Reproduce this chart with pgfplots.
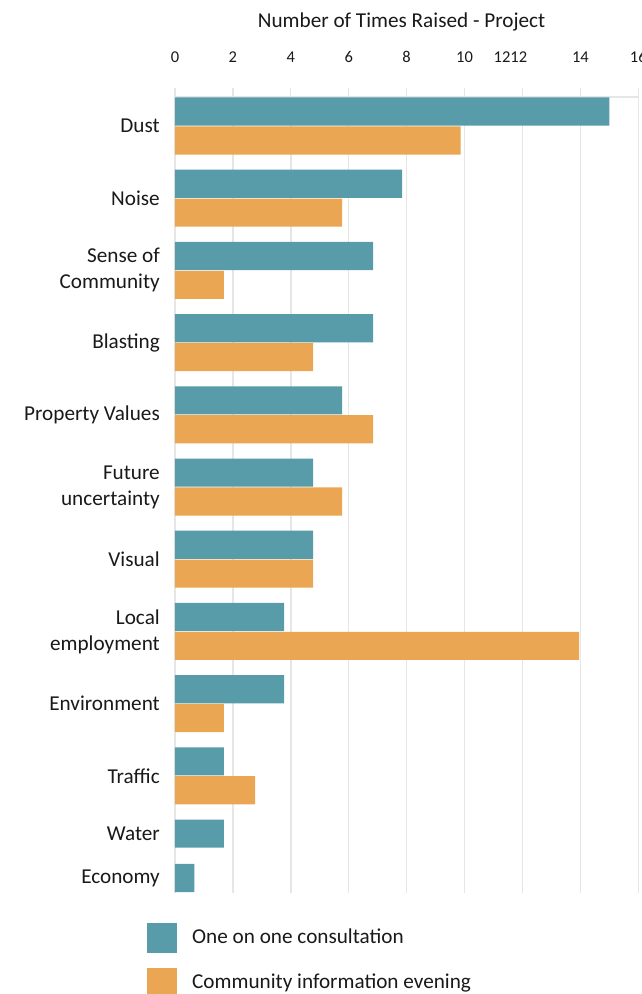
\documentclass[border=0pt]{standalone}
\usepackage{fontspec}
\setmainfont{Carlito}
\usepackage{pgfplots}
\pgfplotsset{compat=1.18}
\definecolor{tealbar}{RGB}{88,156,169}
\definecolor{orangebar}{RGB}{234,166,82}
\definecolor{gridgray}{RGB}{230,230,230}
\definecolor{txt}{RGB}{25,25,25}

\begin{document}
\begin{tikzpicture}
\begin{axis}[
  at={(0,0)}, anchor=south west,
  scale only axis, width=463.3pt, height=796pt,
  xbar, bar shift=0pt, bar width=0.39,
  xmin=0, xmax=16, ymin=-10.623, ymax=0.402,
  axis x line*=top, axis y line*=left,
  x axis line style={draw=gridgray, line width=1.2pt},
  y axis line style={draw=none},
  xtick={0,2,...,16},
  xticklabels={0,2,4,6,8,10,\kern-24pt 1212,14,16},
  tick align=outside,
  x tick style={draw=gridgray, line width=1.2pt},
  major tick length=9pt,
  xmajorgrids, grid style={draw=gridgray, line width=1.5pt},
  xticklabel style={font=\fontsize{16.5}{20}\selectfont, text=txt, anchor=base, inner sep=0pt, yshift=25pt},
  ytick={-10.416,-9.8,-9,-8,-7,-6,-5,-4,-3,-2,-1,0},
  yticklabels={Economy,Water,Traffic,Environment,{Local\\employment},Visual,{Future\\uncertainty},Property Values,Blasting,{Sense of\\Community},Noise,Dust},
  y tick style={draw=none},
  yticklabel style={font=\fontsize{21.2}{26}\selectfont, text=txt, align=right, anchor=east, inner sep=0pt, xshift=-6pt},
  title={Number of Times Raised - Project},
  title style={at={(axis description cs:0.489,1)}, anchor=base, yshift=63pt, inner sep=0pt, font=\fontsize{21.2}{25}\selectfont, text=txt},
  legend image code/.code={\fill[#1] (0pt,-9pt) rectangle (30pt,21pt);},
  legend style={at={(axis description cs:0,0)}, anchor=north west, xshift=-28pt, yshift=-29.7pt,
    draw=none, fill=none, inner sep=0pt, row sep=15pt, column sep=15pt,
    nodes={inner sep=0pt, anchor=base west, font=\fontsize{21.2}{25}\selectfont, text=txt}},
  legend cell align=left,
]
\addplot[fill=tealbar, draw=none] table {
x y
15.00 0.2
7.84 -0.8
6.84 -1.8
6.84 -2.8
5.77 -3.8
4.77 -4.8
4.77 -5.8
3.77 -6.8
3.77 -7.8
1.69 -8.8
1.69 -9.8
0.67 -10.416
};
\addlegendentry{One on one consultation}
\addplot[fill=orangebar, draw=none] table {
x y
9.86 -0.2
5.77 -1.2
1.69 -2.2
4.77 -3.2
6.84 -4.2
5.77 -5.2
4.77 -6.2
13.96 -7.2
1.69 -8.2
2.77 -9.2
};
\addlegendentry{Community information evening}
\end{axis}
\pgfresetboundingbox
\useasboundingbox (-175pt,-101pt) rectangle (467pt,893pt);
\end{tikzpicture}
\end{document}
